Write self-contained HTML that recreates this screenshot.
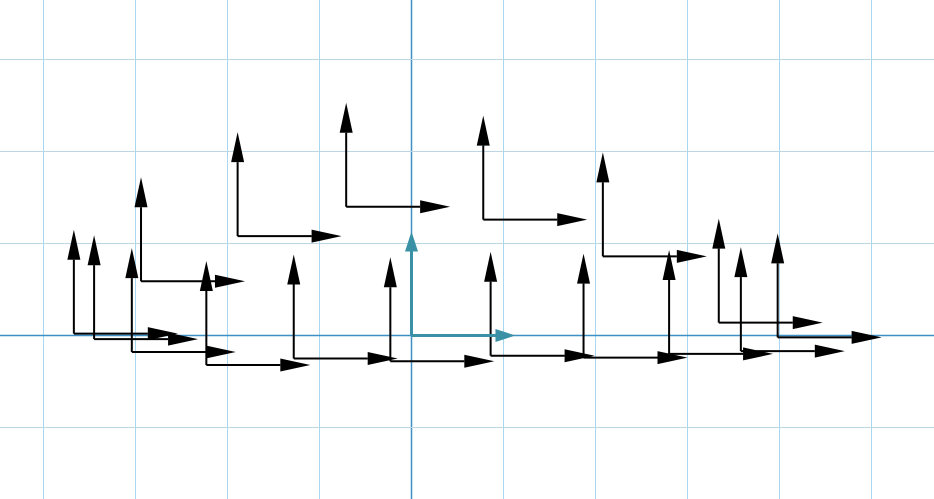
<!DOCTYPE html>
<html><head><meta charset="utf-8"><style>
html,body{margin:0;padding:0;background:#fff;width:934px;height:499px;overflow:hidden}
</style></head><body>
<svg id="chart" width="934" height="499" xmlns="http://www.w3.org/2000/svg">
<g id="grid"></g>
<g id="frames"></g>
</svg>
<script>
// frame origins in data units
const originX = [-3.67,-3.45,-3.04,-2.94,-2.23,-1.89,-1.28,-0.71,-0.23,0.78,0.86,1.87,2.08,2.80,3.34,3.58,3.98];
const originY = [0.02,-0.04,-0.18,0.59,-0.32,1.08,-0.25,1.40,-0.28,1.26,-0.22,-0.24,0.86,-0.20,0.14,-0.17,-0.02];
const gridXTicks = [-4,-3,-2,-1,0,1,2,3,4,5];
const gridYTicks = [-1,0,1,2,3];
const arrowLen = 1.13;

const cx = 411.5, cy = 335.5, s = 92;
const X = v => cx + v*s;
const Y = v => cy - v*s;
const NS = 'http://www.w3.org/2000/svg';
const grid = document.getElementById('grid');
const frames = document.getElementById('frames');
function mk(tag, attrs, parent){
  const e = document.createElementNS(NS, tag);
  for (const k in attrs) e.setAttribute(k, attrs[k]);
  parent.appendChild(e);
  return e;
}
gridXTicks.forEach(t => {
  const l = mk('line',{x1:X(t),x2:X(t),y1:0,y2:499,stroke:t===0?'#3d8fc4':'#a6d8f2','stroke-width':t===0?1.5:1},grid);
  
  
});
gridYTicks.forEach(t => {
  const l = mk('line',{x1:0,x2:934,y1:Y(t),y2:Y(t),stroke:t===0?'#3d8fc4':'#bcd6e4','stroke-width':t===0?1.5:1},grid);
  
  
});
function arrow(x0,y0,x1,y1,color,w,hl,hw,parent){
  const dx=x1-x0, dy=y1-y0, L=Math.hypot(dx,dy), ux=dx/L, uy=dy/L;
  const bx=x1-ux*hl, by=y1-uy*hl;
  mk('line',{x1:x0,y1:y0,x2:bx,y2:by,stroke:color,'stroke-width':w},parent);
  mk('polygon',{points:`${x1},${y1} ${bx-uy*hw/2},${by+ux*hw/2} ${bx+uy*hw/2},${by-ux*hw/2}`,fill:color},parent);
}
originX.forEach((ox,i) => {
  const g = mk('g',{},frames);
  
  
  const x0=X(ox), y0=Y(originY[i]);
  arrow(x0,y0,X(ox+arrowLen),y0,'#000',2,30,13,g);
  arrow(x0,y0,x0,Y(originY[i]+arrowLen),'#000',2,30,13,g);
});
const wg = mk('g',{},frames);


arrow(X(0),Y(0),X(arrowLen),Y(0),'#3a90a4',3,20,13,wg);
arrow(X(0),Y(0),X(0),Y(arrowLen),'#3a90a4',3,20,13,wg);
</script>
</body></html>
